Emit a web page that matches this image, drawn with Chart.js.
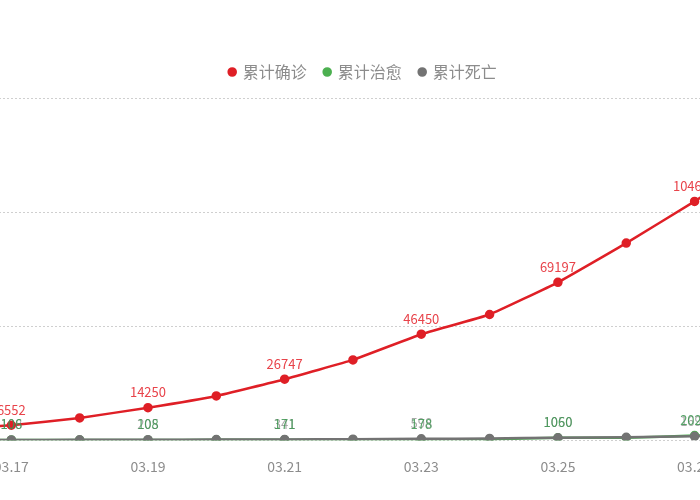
<!DOCTYPE html>
<html>
<head>
<meta charset="utf-8">
<script src="https://cdn.jsdelivr.net/npm/chart.js@4"></script>
<style>
    html, body { margin: 0; padding: 0; background: #fff; overflow: hidden; }
    #wrap { position: absolute; left: -75.4px; top: 0; width: 874.8px; height: 500px; }
</style>
</head>
<body>
<div id="wrap"><canvas id="grafico"></canvas></div>
<script>
// fechas (03.16 y 03.28 quedan fuera de la vista)
const fechas = ['03.16', '03.17', '03.18', '03.19', '03.20', '03.21', '03.22', '03.23', '03.24', '03.25', '03.26', '03.27', '03.28'];
const confirmados = [4661, 6552, 9780, 14250, 19400, 26747, 35200, 46450, 55100, 69197, 86400, 104686, 124000];
const curados = [12, 106, 106, 108, 147, 171, 178, 178, 361, 1060, 1080, 2022, 2500];
const muertes = [86, 108, 150, 205, 264, 341, 471, 598, 785, 1050, 1300, 1697, 2200];
const ticksY = [0, 50000, 100000, 150000];

const colores = {
    rojo: '#df1f26',
    verde: '#4cb050',
    gris: '#737373',
    texto: '#8c8c8c'
};

const fuente = "'Microsoft YaHei', 'Noto Sans CJK SC', sans-serif";

// etiquetas de valor cada dos puntos (como en el original)
const etiquetas = {
    id: 'etiquetas',
    afterDatasetsDraw(chart) {
        const ctx = chart.ctx;
        ctx.save();
        ctx.font = '13px ' + fuente;
        ctx.textAlign = 'center';
        ctx.textBaseline = 'bottom';
        [2, 1, 0].forEach(di => {
            const meta = chart.getDatasetMeta(di);
            const ds = chart.data.datasets[di];
            meta.data.forEach((p, i) => {
                if (i % 2 !== 1) return;
                ctx.fillStyle = ds.labelColor;
                ctx.fillText(ds.data[i], p.x, p.y - 9);
            });
        });
        ctx.restore();
    }
};

// la leyenda va un poco más abajo y centrada en la vista
const margenLeyenda = {
    id: 'margenLeyenda',
    beforeInit(chart) {
        const fit = chart.legend.fit;
        chart.legend.fit = function () {
            fit.bind(chart.legend)();
            this.height += 10;
        };
    },
    afterLayout(chart) {
        const l = chart.legend;
        l.left += 18.5;
        l.right += 18.5;
        l.top += 2;
        l.bottom += 2;
    }
};

const serie = (label, data, color, labelColor, orden) => ({
    label: label,
    data: data,
    borderColor: color,
    backgroundColor: color,
    pointBackgroundColor: color,
    pointBorderColor: color,
    pointRadius: 3.5,
    pointHoverRadius: 5,
    borderWidth: 2.5,
    tension: 0.1,
    fill: false,
    order: orden,
    labelColor: labelColor
});

new Chart(document.getElementById('grafico'), {
    type: 'line',
    data: {
        labels: fechas,
        datasets: [
            serie('累计确诊', confirmados, colores.rojo, '#e8434a', 0),
            serie('累计治愈', curados, colores.verde, 'rgba(60,150,80,0.85)', 2),
            serie('累计死亡', muertes, colores.gris, 'rgba(110,110,110,0.6)', 1)
        ]
    },
    options: {
        responsive: true,
        maintainAspectRatio: false,
        animation: false,
        layout: {
            padding: { top: 44, left: 1.5, right: 36.9, bottom: 7 }
        },
        scales: {
            x: {
                offset: false,
                grid: { display: false, drawTicks: false },
                border: { display: false },
                ticks: {
                    autoSkip: false,
                    maxRotation: 0,
                    padding: 18,
                    color: colores.texto,
                    font: { size: 14, family: fuente },
                    callback: function (value, index) {
                        return index % 2 === 1 ? fechas[index] : '';
                    }
                }
            },
            y: {
                min: ticksY[0],
                max: ticksY[ticksY.length - 1],
                afterBuildTicks: axis => {
                    axis.ticks = ticksY.map(v => ({ value: v }));
                },
                border: { display: false, dash: [2, 2] },
                grid: { color: '#cfcfcf', drawTicks: false },
                ticks: { display: false }
            }
        },
        plugins: {
            legend: {
                position: 'top',
                labels: {
                    usePointStyle: true,
                    pointStyle: 'circle',
                    boxWidth: 5,
                    boxHeight: 5,
                    padding: 18,
                    color: colores.texto,
                    font: { size: 16, family: fuente },
                    sort: (a, b) => a.datasetIndex - b.datasetIndex
                }
            },
            tooltip: { enabled: false }
        }
    },
    plugins: [etiquetas, margenLeyenda]
});
</script>
</body>
</html>
